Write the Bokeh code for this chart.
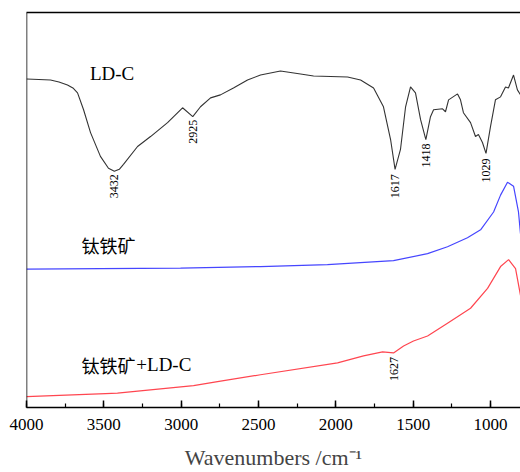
import numpy as np
from bokeh.plotting import figure
from bokeh.models import Range1d, SingleIntervalTicker, FixedTicker, Span, Label, LinearAxis
from bokeh.embed import file_html
from bokeh.resources import INLINE

# LD-C spectrum (wavenumber, arbitrary offset transmittance)
ldc_wn = [4000, 3920, 3845, 3790, 3735, 3700, 3670, 3631, 3586, 3522, 3470, 3432, 3400, 3373, 3282,
          3198, 3088, 2991, 2925, 2875, 2810, 2746, 2662, 2571, 2487, 2358, 2228, 2144,
          1924, 1840, 1756, 1692, 1646, 1617, 1582, 1549, 1517, 1485, 1452, 1418, 1388,
          1368, 1310, 1291, 1271, 1213, 1194, 1175, 1129, 1097, 1078, 1052, 1029, 1000,
          968, 935, 903, 884, 851, 826, 806]
ldc_t = [331, 330.5, 330, 328, 325, 322, 317, 300, 277, 253, 241, 238, 240, 245, 263,
         273, 287, 302, 293, 303, 312, 315, 322, 330, 335, 339, 336, 334,
         333, 330, 322, 303, 270, 240, 260, 303, 323, 317, 290, 270, 293,
         300, 301, 298, 310, 316, 310, 297, 287, 273, 275, 267, 256, 283,
         310, 313, 323, 322, 335, 320, 315]

# 钛铁矿 spectrum
ilm_wn = [4000, 3522, 3004, 2487, 2054, 1627, 1407, 1278, 1149, 1064, 980, 935, 890, 851, 819, 806]
ilm_t = [139.5, 140, 140.5, 142, 144, 148, 155, 162, 171, 179, 197, 214, 227, 223, 197, 175]

# 钛铁矿+LD-C spectrum
mix_wn = [4000, 3489, 3412, 2920, 2765, 2487, 1989, 1821, 1698, 1627, 1562, 1498, 1407,
          1278, 1129, 1019, 935, 883, 838, 806]
mix_t = [11, 14, 14.5, 22, 26, 33, 45, 52, 56, 55, 62, 67, 72,
         85, 100, 120, 142, 149, 140, 113]

peak_labels = ["3432", "2925", "1617", "1418", "1029"]
peak_wn = [3432, 2925, 1617, 1418, 1029]
peak_y = [235, 290, 235, 266, 251]
mix_peak_label = "1627"
mix_peak_wn = 1627
mix_peak_y = 51

x_ticks_interval = 500

serif = "Liberation Serif"

p = figure(width=520, height=472, output_backend="svg", toolbar_location=None,
           x_range=Range1d(4000, 806), y_range=Range1d(0, 398),
           y_axis_location=None, min_border_left=26, min_border_right=0,
           min_border_top=12, min_border_bottom=62)
p.outline_line_color = None
p.grid.visible = False
p.background_fill_color = "white"

ax = p.xaxis[0]
ax.ticker = SingleIntervalTicker(interval=x_ticks_interval, num_minor_ticks=2)
ax.axis_line_width = 1.5
ax.axis_line_color = "black"
ax.major_tick_in = 7
ax.major_tick_out = 0
ax.minor_tick_in = 4
ax.minor_tick_out = 0
ax.major_tick_line_width = 1.5
ax.minor_tick_line_width = 1.2
ax.major_label_text_font = serif
ax.major_label_text_font_size = "17px"
ax.major_label_text_color = "black"
ax.major_label_standoff = 11
ax.axis_label = "Wavenumbers /cm\u207b\u00b9"
ax.axis_label_text_font = serif
ax.axis_label_text_font_size = "22px"
ax.axis_label_text_font_style = "normal"
ax.axis_label_standoff = 12

top = LinearAxis(ticker=FixedTicker(ticks=[]), axis_line_width=1.5, axis_line_color="black",
                 major_tick_in=0, major_tick_out=0, minor_tick_in=0, minor_tick_out=0,
                 major_label_text_font_size="0px", major_label_standoff=0)
p.add_layout(top, "above")

p.add_layout(Span(location=4000, dimension="height", line_color="black", line_width=1.5))

p.line(ldc_wn, ldc_t, line_color="#333333", line_width=1.1)
p.line(ilm_wn, ilm_t, line_color="#4646ff", line_width=1.2)
p.line(mix_wn, mix_t, line_color="#ff4650", line_width=1.2)

for lab, wn, yy in zip(peak_labels, peak_wn, peak_y):
    p.add_layout(Label(x=wn, y=yy, text=lab, angle=np.pi / 2, text_align="right",
                       text_baseline="middle", text_font=serif, text_font_size="12px",
                       text_color="black"))
p.add_layout(Label(x=mix_peak_wn, y=mix_peak_y, text=mix_peak_label, angle=np.pi / 2,
                   text_align="right", text_baseline="middle", text_font=serif,
                   text_font_size="12px", text_color="black"))

p.add_layout(Label(x=3590, y=337, text="LD-C", text_align="left", text_baseline="middle",
                   text_font=serif, text_font_size="19px", text_color="black"))
p.add_layout(Label(x=3645, y=164, text="钛铁矿", text_align="left", text_baseline="middle",
                   text_font="Noto Sans CJK SC", text_font_size="18px", text_color="black"))
p.add_layout(Label(x=3645, y=43, text="钛铁矿", text_align="left", text_baseline="middle",
                   text_font="Noto Sans CJK SC", text_font_size="18px", text_color="black"))
p.add_layout(Label(x=3290, y=43, text="+LD-C", text_align="left", text_baseline="middle",
                   text_font=serif, text_font_size="19px", text_color="black"))

open("out.html", "w").write(file_html(p, INLINE))
